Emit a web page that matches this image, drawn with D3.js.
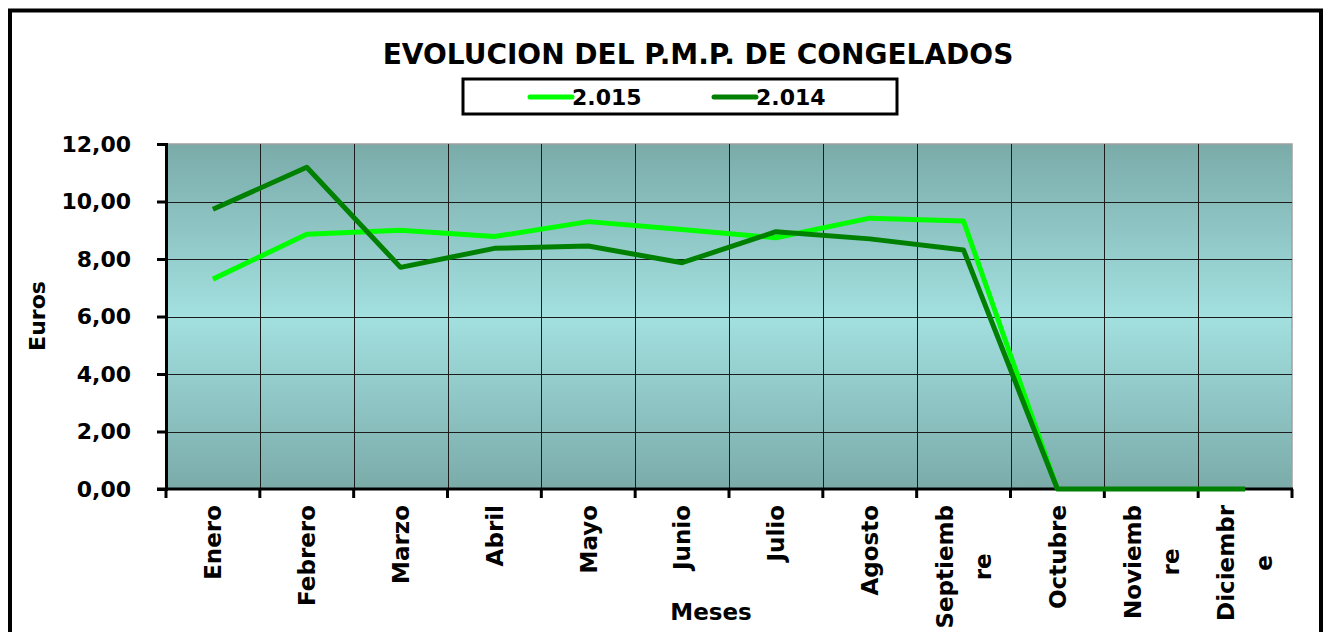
<!DOCTYPE html>
<html>
<head>
<meta charset="UTF-8">
<title>Evolucion del P.M.P. de congelados</title>
<script src="https://cdn.jsdelivr.net/npm/d3@7"></script>
<style>
  body { margin: 0; background: #fff; }
  text { font-family: "DejaVu Sans", sans-serif; font-weight: bold; fill: #000; }
</style>
</head>
<body>
<script>
// data
var meses = ["Enero", "Febrero", "Marzo", "Abril", "Mayo", "Junio", "Julio",
             "Agosto", "Septiembre", "Octubre", "Noviembre", "Diciembre"];
// how the axis labels wrap in the original
var etiquetas = [["Enero"], ["Febrero"], ["Marzo"], ["Abril"], ["Mayo"], ["Junio"], ["Julio"],
                 ["Agosto"], ["Septiemb", "re"], ["Octubre"], ["Noviemb", "re"], ["Diciembr", "e"]];
var serie2015 = [7.30, 8.86, 9.00, 8.78, 9.30, 9.03, 8.74, 9.42, 9.32, 0, null, null];
var serie2014 = [9.73, 11.19, 7.71, 8.37, 8.45, 7.87, 8.95, 8.70, 8.31, 0, 0, 0];
var yTicks = [0, 2, 4, 6, 8, 10, 12];

var series = [
  { name: "2.015", values: serie2015, color: "#00ff00" },
  { name: "2.014", values: serie2014, color: "#008000" }
];

var width = 1325, height = 632;
var plot = { left: 166, top: 144, right: 1292, bottom: 489 };

var svg = d3.select("body").append("svg")
  .attr("width", width)
  .attr("height", height);

// marco exterior
svg.append("rect")
  .attr("x", 10).attr("y", 10.5)
  .attr("width", 1311).attr("height", 700)
  .attr("fill", "#fff")
  .attr("stroke", "#000")
  .attr("stroke-width", 4);

// degradado del fondo
var grad = svg.append("defs").append("linearGradient")
  .attr("id", "fondo")
  .attr("x1", 0).attr("y1", 0).attr("x2", 0).attr("y2", 1);
grad.append("stop").attr("offset", "0%").attr("stop-color", "#7aaba9");
grad.append("stop").attr("offset", "50%").attr("stop-color", "#a3e0e0");
grad.append("stop").attr("offset", "100%").attr("stop-color", "#7aaba9");

var x = d3.scaleBand().domain(meses).range([plot.left, plot.right]).padding(0);
var y = d3.scaleLinear().domain([0, 12]).range([plot.bottom, plot.top]);

svg.append("rect")
  .attr("x", plot.left).attr("y", plot.top)
  .attr("width", plot.right - plot.left)
  .attr("height", plot.bottom - plot.top)
  .attr("fill", "url(#fondo)")
  .attr("stroke", "#a0a0a0")
  .attr("stroke-width", 1.5);

// rejilla horizontal
svg.append("g").selectAll("line")
  .data(yTicks.filter(function(d) { return d > 0 && d < 12; }))
  .enter().append("line")
  .attr("x1", plot.left).attr("x2", plot.right)
  .attr("y1", function(d) { return Math.round(y(d)) + 0.5; })
  .attr("y2", function(d) { return Math.round(y(d)) + 0.5; })
  .attr("stroke", "#1c1c1c").attr("stroke-width", 1);

// rejilla vertical
svg.append("g").selectAll("line")
  .data(meses.slice(1))
  .enter().append("line")
  .attr("x1", function(d) { return Math.round(x(d)) + 0.5; })
  .attr("x2", function(d) { return Math.round(x(d)) + 0.5; })
  .attr("y1", plot.top).attr("y2", plot.bottom)
  .attr("stroke", "#1c1c1c").attr("stroke-width", 1);

// eje Y
var loc = d3.formatLocale({ decimal: ",", thousands: ".", grouping: [3], currency: ["", "€"] });
var yAxis = svg.append("g")
  .attr("transform", "translate(" + plot.left + ",0)")
  .call(d3.axisLeft(y).tickValues(yTicks).tickSize(9).tickPadding(26).tickFormat(loc.format(".2f")));
yAxis.select(".domain").attr("stroke", "#000").attr("stroke-width", 3);
yAxis.selectAll(".tick line").attr("stroke", "#000").attr("stroke-width", 3);
yAxis.selectAll(".tick text")
  .attr("font-size", 22)
  .attr("font-family", "DejaVu Sans")
  .attr("font-weight", "bold")
  .attr("fill", "#000");

// eje X (solo linea y marcas en los limites de categoria)
svg.append("line")
  .attr("x1", plot.left - 9).attr("x2", plot.right + 1)
  .attr("y1", plot.bottom).attr("y2", plot.bottom)
  .attr("stroke", "#000").attr("stroke-width", 3);
svg.append("g").selectAll("line")
  .data(meses.concat(["fin"]))
  .enter().append("line")
  .attr("x1", function(d, i) { return i < meses.length ? x(d) : plot.right; })
  .attr("x2", function(d, i) { return i < meses.length ? x(d) : plot.right; })
  .attr("y1", plot.bottom).attr("y2", plot.bottom + 9)
  .attr("stroke", "#000").attr("stroke-width", 3);

// etiquetas de meses, giradas
var labelTop = 505;
var lab = svg.append("g").selectAll("g")
  .data(meses)
  .enter().append("g")
  .attr("transform", function(d) {
    return "translate(" + (x(d) + x.bandwidth() / 2) + "," + labelTop + ") rotate(-90)";
  });
lab.each(function(d, i) {
  var g = d3.select(this);
  var lineas = etiquetas[i];
  var texts = g.selectAll("text").data(lineas).enter().append("text")
    .attr("font-size", 23)
    .attr("text-anchor", "middle")
    .attr("y", function(t, j) { return (j - (lineas.length - 1) / 2) * 38; })
    .attr("dy", "0.36em")
    .text(function(t) { return t; });
  var maxL = 0;
  texts.each(function() { maxL = Math.max(maxL, this.getComputedTextLength()); });
  texts.attr("x", -maxL / 2);
});

// lineas de datos
var linea = d3.line()
  .defined(function(d) { return d != null; })
  .x(function(d, i) { return x(meses[i]) + x.bandwidth() / 2; })
  .y(function(d) { return y(d); });

svg.append("g").selectAll("path")
  .data(series)
  .enter().append("path")
  .attr("d", function(s) { return linea(s.values); })
  .attr("fill", "none")
  .attr("stroke", function(s) { return s.color; })
  .attr("stroke-width", 5)
  .attr("stroke-linejoin", "round")
  .attr("stroke-linecap", "butt");

// titulos
svg.append("text")
  .attr("x", 698).attr("y", 64)
  .attr("text-anchor", "middle")
  .attr("font-size", 28)
  .text("EVOLUCION DEL P.M.P. DE CONGELADOS");

svg.append("text")
  .attr("transform", "translate(45,316) rotate(-90)")
  .attr("text-anchor", "middle")
  .attr("font-size", 22)
  .text("Euros");

svg.append("text")
  .attr("x", 711).attr("y", 620)
  .attr("text-anchor", "middle")
  .attr("font-size", 23)
  .text("Meses");

// leyenda
var leg = svg.append("g");
leg.append("rect")
  .attr("x", 463).attr("y", 79)
  .attr("width", 434).attr("height", 35)
  .attr("fill", "#fff")
  .attr("stroke", "#000")
  .attr("stroke-width", 3);
var legX = [530, 714];
var item = leg.selectAll("g").data(series).enter().append("g")
  .attr("transform", function(s, i) { return "translate(" + legX[i] + ",97)"; });
item.append("line")
  .attr("x1", 0).attr("x2", 42)
  .attr("stroke", function(s) { return s.color; })
  .attr("stroke-width", 5)
  .attr("stroke-linecap", "round");
item.append("text")
  .attr("x", 42).attr("dy", "0.36em")
  .attr("font-size", 22)
  .text(function(s) { return s.name; });
</script>
</body>
</html>
